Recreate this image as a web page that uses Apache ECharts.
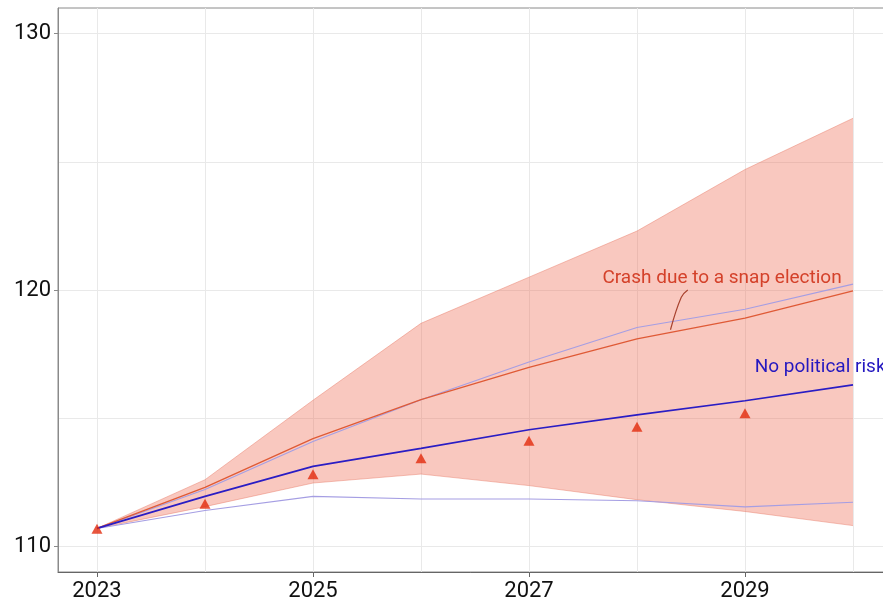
<!DOCTYPE html>
<html>
<head>
<meta charset="utf-8">
<script src="https://cdn.jsdelivr.net/npm/echarts@6/dist/echarts.min.js"></script>
<style>
  html, body { margin: 0; padding: 0; background: #fff; }
  #chart { width: 883px; height: 603px; }
</style>
</head>
<body>
<div id="chart"></div>
<script>
// ---- data ----
const years = [2023, 2024, 2025, 2026, 2027, 2028, 2029, 2030];
const bandHigh = [110.7, 112.6, 115.7, 118.7, 120.5, 122.3, 124.7, 126.7];
const bandLow = [110.7, 111.55, 112.47, 112.82, 112.37, 111.82, 111.36, 110.81];
const crashPath = [110.7, 112.3, 114.2, 115.72, 116.98, 118.09, 118.9, 119.97];
const upperSim = [110.7, 112.22, 114.09, 115.72, 117.19, 118.54, 119.25, 120.23];
const lowerSim = [110.7, 111.4, 111.95, 111.85, 111.85, 111.78, 111.54, 111.72];
const noRisk = [110.7, 111.95, 113.12, 113.82, 114.55, 115.13, 115.68, 116.3];
const markerYears = [2023, 2024, 2025, 2026, 2027, 2028, 2029];
const markerValues = [110.69, 111.66, 112.81, 113.44, 114.12, 114.67, 115.19];
const xTickLabels = [2023, 2025, 2027, 2029];
const yGridValues = [110, 115, 120, 125, 130];
const yTickLabels = [110, 120, 130];
const crashLabel = { text: 'Crash due to a snap election', x: 2027.68, y: 120.47 };
const noRiskLabel = { text: 'No political risk', x: 2029.09, y: 117.0 };
const leaderLine = [[2028.47, 120.0], [2028.41, 119.72], [2028.31, 118.45]];

const pairs = (xs, ys) => xs.map((x, i) => [x, ys[i]]);

const chart = echarts.init(document.getElementById('chart'), null, { renderer: 'canvas' });

const gridColor = '#e9e9e9';
const axisFont = { fontFamily: 'Roboto, sans-serif', fontSize: 22, color: '#111' };

const option = {
  animation: false,
  backgroundColor: '#fff',
  grid: {
    left: 58, top: 8, right: -20, bottom: 31,
    outerBoundsMode: 'none', containLabel: false,
    show: true, borderColor: '#8a8a8a', borderWidth: 1, backgroundColor: 'transparent'
  },
  xAxis: [
    {
      type: 'value', min: 2022.639, max: 2030.463, position: 'bottom',
      axisLine: { show: true, lineStyle: { color: '#666', width: 1 } },
      axisTick: { show: false, customValues: years },
      axisLabel: { show: false },
      splitLine: { show: true, lineStyle: { color: gridColor, width: 1 } }
    },
    {
      type: 'value', min: 2022.639, max: 2030.463, position: 'bottom',
      axisLine: { show: false },
      axisTick: { show: true, customValues: xTickLabels, length: 5, lineStyle: { color: '#666' } },
      axisLabel: Object.assign({ customValues: xTickLabels, margin: 8, formatter: v => String(v) }, axisFont),
      splitLine: { show: false }
    }
  ],
  yAxis: [
    {
      type: 'value', min: 109, max: 131, position: 'left',
      axisLine: { show: true, lineStyle: { color: '#8a8a8a', width: 1 } },
      axisTick: { show: false, customValues: yGridValues },
      axisLabel: { show: false },
      splitLine: { show: true, lineStyle: { color: gridColor, width: 1 } }
    },
    {
      type: 'value', min: 109, max: 131, position: 'left',
      axisLine: { show: false },
      axisTick: { show: true, customValues: yTickLabels, length: 4, lineStyle: { color: '#8a8a8a' } },
      axisLabel: Object.assign({ customValues: yTickLabels, margin: 7 }, axisFont),
      splitLine: { show: false }
    }
  ],
  series: [
    {
      name: 'Band', type: 'custom', data: [0], silent: true, z: 1,
      renderItem: function (params, api) {
        const top = years.map((y, i) => api.coord([y, bandHigh[i]]));
        const bottom = years.map((y, i) => api.coord([y, bandLow[i]])).reverse();
        return {
          type: 'group',
          children: [
            { type: 'polygon', shape: { points: top.concat(bottom) }, style: { fill: 'rgba(238,110,88,0.38)', stroke: null } },
            { type: 'polyline', shape: { points: top }, style: { fill: null, stroke: 'rgba(230,120,100,0.45)', lineWidth: 1 } },
            { type: 'polyline', shape: { points: bottom }, style: { fill: null, stroke: 'rgba(230,120,100,0.45)', lineWidth: 1 } }
          ]
        };
      }
    },
    {
      name: 'Lower simulation', type: 'line', data: pairs(years, lowerSim),
      symbol: 'none', z: 3, lineStyle: { color: '#a59ee3', width: 1.1 }
    },
    {
      name: 'Upper simulation', type: 'line', data: pairs(years, upperSim),
      symbol: 'none', z: 3, lineStyle: { color: '#a59ee3', width: 1.1 }
    },
    {
      name: 'Crash due to a snap election', type: 'line', data: pairs(years, crashPath),
      symbol: 'none', z: 4, lineStyle: { color: '#df5a36', width: 1.3 }
    },
    {
      name: 'No political risk', type: 'line', data: pairs(years, noRisk),
      symbol: 'none', z: 5, lineStyle: { color: '#2a1dc4', width: 1.7 }
    },
    {
      name: 'Leader', type: 'line', data: leaderLine, smooth: 0.4,
      symbol: 'none', z: 5, lineStyle: { color: '#a8432f', width: 1.2 }
    },
    {
      name: 'Markers', type: 'scatter', data: pairs(markerYears, markerValues),
      symbol: 'triangle', symbolSize: [11, 10], z: 6,
      itemStyle: { color: '#e22a0c' }
    }
  ]
};

chart.setOption(option);

const p1 = chart.convertToPixel({ xAxisIndex: 0, yAxisIndex: 0 }, [crashLabel.x, crashLabel.y]);
const p2 = chart.convertToPixel({ xAxisIndex: 0, yAxisIndex: 0 }, [noRiskLabel.x, noRiskLabel.y]);
chart.setOption({
  graphic: [
    {
      type: 'text', x: p1[0], y: p1[1], z: 10,
      style: { text: crashLabel.text, fill: '#d4412a', font: '19px Roboto, sans-serif', verticalAlign: 'middle', align: 'left' }
    },
    {
      type: 'text', x: p2[0], y: p2[1], z: 10,
      style: { text: noRiskLabel.text, fill: '#2418c0', font: '19px Roboto, sans-serif', verticalAlign: 'middle', align: 'left' }
    }
  ]
});
</script>
</body>
</html>
